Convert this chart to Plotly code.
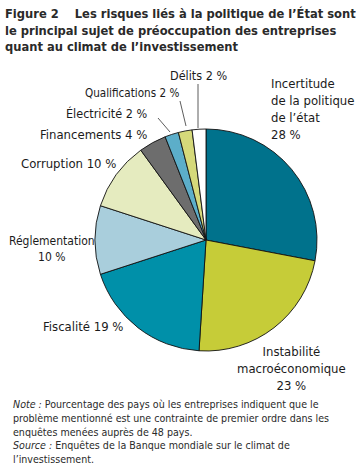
import plotly.graph_objects as go

labels = ["Incertitude de la politique de l'état", "Instabilité macroéconomique", "Fiscalité",
          "Réglementation", "Corruption", "Financements", "Électricité", "Qualifications", "Délits"]
values = [28, 23, 19, 10, 10, 4, 2, 2, 2]
colors = ["#00728C", "#C6CC38", "#0090A9", "#A9CEDC", "#E5EBBF", "#6D6D6D", "#5CAEC9", "#D5D97A", "#FFFFFF"]

W, H = 358, 467
FONT = "DejaVu Sans Condensed, Liberation Sans Narrow, sans-serif"
TXT = "#1b1b1b"

def px(x):
    return x / W

def py(y):
    return 1 - y / H

cx, cy, r = 206, 240, 111

fig = go.Figure(go.Pie(
    labels=labels, values=values, sort=False, direction="clockwise", rotation=0,
    marker=dict(colors=colors, line=dict(color="#111111", width=0.9)),
    textinfo="none", hoverinfo="label+percent", showlegend=False,
    domain=dict(x=[px(cx - r), px(cx + r)], y=[py(cy + r), py(cy - r)]),
))

ann = []
def add(text, x, y, xanchor="center", size=13, align="center"):
    ann.append(dict(text=text, x=px(x), y=py(y), xref="paper", yref="paper",
                    xanchor=xanchor, yanchor="middle", showarrow=False, align=align,
                    borderpad=0,
                    font=dict(family=FONT, size=size, color=TXT)))

title = ("<b>Figure 2    Les risques liés à la politique de l’État sont<br>"
         "le principal sujet de préoccupation des entreprises<br>"
         "quant au climat de l’investissement</b>")
ann.append(dict(text=title, x=px(4), y=py(30), xref="paper", yref="paper", xanchor="left",
                yanchor="middle", showarrow=False, align="left", borderpad=0,
                font=dict(family=FONT, size=12.8, color="#2a2a2a")))

add("Incertitude<br>de la politique<br>de l’état<br>28 %", 270, 109, xanchor="left", align="left")
add("Instabilité<br>macroéconomique<br>23 %", 291, 368)
add("Fiscalité 19 %", 83, 326)
add("Réglementation<br>10 %", 52, 249, size=12)
add("Corruption 10 %", 117, 163, xanchor="right", size=13)
add("Financements 4 %", 148, 135, xanchor="right", size=13)
add("Électricité 2 %", 148, 113, xanchor="right", size=12.5)
add("Qualifications 2 %", 180, 93, xanchor="right", size=11.6)
add("Délits 2 %", 198, 75, size=12.5)

note = ("<i>Note :</i> Pourcentage des pays où les entreprises indiquent que le<br>"
        "problème mentionné est une contrainte de premier ordre dans les<br>"
        "enquêtes menées auprès de 48 pays.<br>"
        "<i>Source :</i> Enquêtes de la Banque mondiale sur le climat de<br>"
        "l’investissement.")
ann.append(dict(text=note, x=px(12), y=py(431), xref="paper", yref="paper", xanchor="left",
                yanchor="middle", showarrow=False, align="left", borderpad=0,
                font=dict(family=FONT, size=10.6, color="#2a2a2a")))

shapes = []
def seg(x0, y0, x1, y1):
    shapes.append(dict(type="line", xref="paper", yref="paper", x0=px(x0), y0=py(y0),
                       x1=px(x1), y1=py(y1), line=dict(color="#333333", width=0.8)))

seg(198, 84, 198, 128)
seg(180, 101, 186, 126)
seg(158, 118, 170, 132)

fig.update_layout(width=W, height=H, margin=dict(l=0, r=0, t=0, b=0),
                  paper_bgcolor="white", plot_bgcolor="white",
                  annotations=ann, shapes=shapes)
fig.write_html("out.html", config={"displayModeBar": False},
               post_script="document.body.style.margin='0';")
